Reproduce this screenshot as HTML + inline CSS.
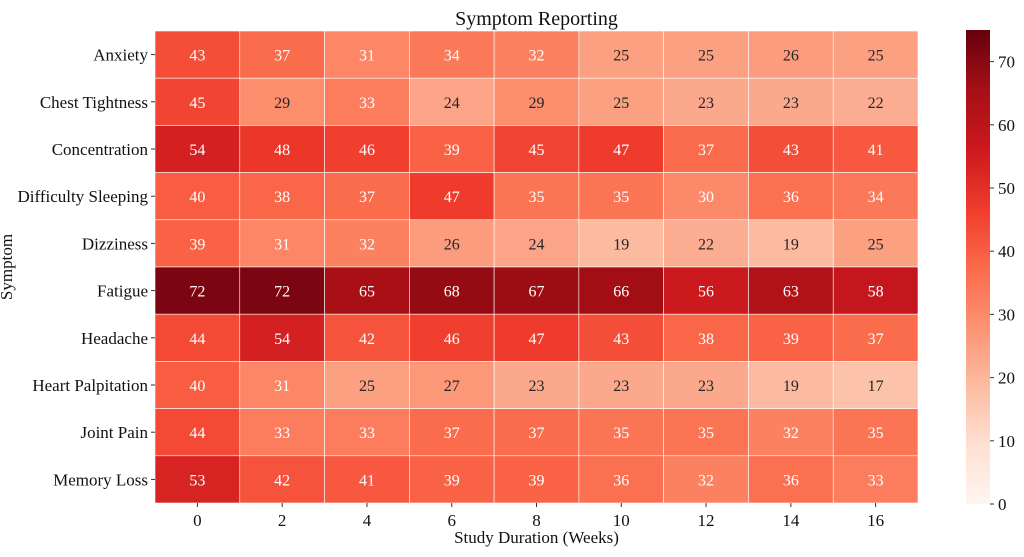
<!DOCTYPE html>
<html><head><meta charset="utf-8"><style>
body{margin:0;background:#fff;}
svg text{font-family:"Liberation Serif",serif;}
</style></head><body>
<svg id="c" width="1024" height="552" xmlns="http://www.w3.org/2000/svg"></svg>
<script>
const symptoms=["Anxiety","Chest Tightness","Concentration","Difficulty Sleeping","Dizziness","Fatigue","Headache","Heart Palpitation","Joint Pain","Memory Loss"];
const weeks=["0","2","4","6","8","10","12","14","16"];
const values=[
[43,37,31,34,32,25,25,26,25],
[45,29,33,24,29,25,23,23,22],
[54,48,46,39,45,47,37,43,41],
[40,38,37,47,35,35,30,36,34],
[39,31,32,26,24,19,22,19,25],
[72,72,65,68,67,66,56,63,58],
[44,54,42,46,47,43,38,39,37],
[40,31,25,27,23,23,23,19,17],
[44,33,33,37,37,35,35,32,35],
[53,42,41,39,39,36,32,36,33]];
const cbTicks=[0,10,20,30,40,50,60,70];
const vmin=0,vmax=75;
const NS="http://www.w3.org/2000/svg";
const svg=document.getElementById('c');
const L=155,R=918,T=31,B=503;
const cw=(R-L)/weeks.length,ch=(B-T)/symptoms.length;
const stops=["#fff5f0","#fee0d2","#fcbba1","#fc9272","#fb6a4a","#ef3b2c","#cb181d","#a50f15","#67000d"].map(h=>[1,3,5].map(i=>parseInt(h.substr(i,2),16)));
function cmap(v){let t=Math.max(0,Math.min(1,(v-vmin)/(vmax-vmin)))*(stops.length-1);let i=Math.min(Math.floor(t),stops.length-2),f=t-i;return stops[i].map((c,k)=>Math.round(c+(stops[i+1][k]-c)*f));}
function lum(c){const l=c.map(x=>{x/=255;return x<=0.03928?x/12.92:Math.pow((x+0.055)/1.055,2.4)});return 0.2126*l[0]+0.7152*l[1]+0.0722*l[2];}
function mk(tag,attrs,txt){const e=document.createElementNS(NS,tag);for(const k in attrs)e.setAttribute(k,attrs[k]);if(txt!=null)e.textContent=txt;svg.appendChild(e);return e;}
values.forEach((row,r)=>row.forEach((v,c)=>{
 const col=cmap(v);
 const rc=mk('rect',{x:L+c*cw,y:T+r*ch,width:cw,height:ch,fill:`rgb(${col})`,stroke:'#fff','stroke-width':0.6});
 
 
 const t=mk('text',{x:L+(c+.5)*cw,y:T+(r+.5)*ch+6,'text-anchor':'middle','font-size':16,fill:lum(col)>0.408?'#262626':'#fff'},v);
 
 
}));
symptoms.forEach((s,r)=>{
 const y=T+(r+.5)*ch;
 mk('line',{x1:L-4,x2:L,y1:y,y2:y,stroke:'#333'});
 const t=mk('text',{x:L-7,y:y+6,'text-anchor':'end','font-size':17,fill:'#111'},s);
 
 
});
weeks.forEach((w,c)=>{
 const x=L+(c+.5)*cw;
 mk('line',{x1:x,x2:x,y1:B,y2:B+4,stroke:'#333'});
 const t=mk('text',{x:x,y:B+23,'text-anchor':'middle','font-size':17,fill:'#111'},w);
 
 
});
let e;
e=mk('text',{x:(L+R)/2,y:25,'text-anchor':'middle','font-size':20,fill:'#111'},'Symptom Reporting');

e=mk('text',{x:(L+R)/2,y:543,'text-anchor':'middle','font-size':17,fill:'#111'},'Study Duration (Weeks)');

e=mk('text',{x:0,y:0,'text-anchor':'middle','font-size':17,fill:'#111',transform:`translate(12,${(T+B)/2}) rotate(-90)`},'Symptom');

const CX=966,CW=24,CT=30,CB=504;
const defs=mk('defs',{});
const g=document.createElementNS(NS,'linearGradient');g.setAttribute('id','cg');g.setAttribute('x1',0);g.setAttribute('y1',1);g.setAttribute('x2',0);g.setAttribute('y2',0);
stops.forEach((s,i)=>{const st=document.createElementNS(NS,'stop');st.setAttribute('offset',i/(stops.length-1));st.setAttribute('stop-color',`rgb(${s})`);g.appendChild(st);});
defs.appendChild(g);
e=mk('rect',{x:CX,y:CT,width:CW,height:CB-CT,fill:'url(#cg)'});

cbTicks.forEach(v=>{
 const y=CB-(v-vmin)/(vmax-vmin)*(CB-CT);
 mk('line',{x1:CX+CW,x2:CX+CW+4,y1:y,y2:y,stroke:'#333'});
 const t=mk('text',{x:CX+CW+8,y:y+6,'font-size':17,fill:'#111'},v);
 
 
});
</script>
</body></html>
